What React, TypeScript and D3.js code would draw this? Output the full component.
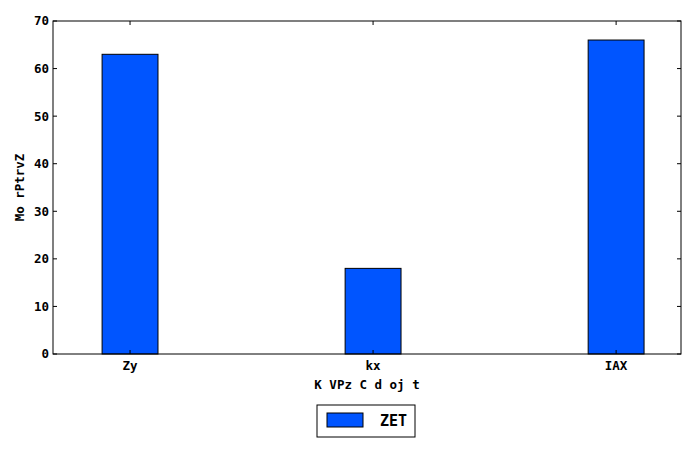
import React from "react";
import * as d3 from "d3";

const categories = ["Zy", "kx", "IAX"];
const values = [63, 18, 66];
const yTicks = [0, 10, 20, 30, 40, 50, 60, 70];
const seriesName = "ZET";

const W = 693;
const H = 462;
const m = { left: 53, right: 681, top: 21, bottom: 354 };
const font = "'DejaVu Sans Mono', monospace";
const blue = "#0055ff";

export default function App() {
  const x = d3.scaleLinear().domain([-0.317, 2.267]).range([m.left, m.right]);
  const y = d3.scaleLinear().domain([0, 70]).range([m.bottom, m.top]);
  const bw = x(0.23) - x(0);

  return (
    <svg width={W} height={H} style={{ position: "absolute", left: 0, top: 0, background: "#fff" }}>
      <g fontFamily={font} fontWeight="bold" fontSize={12.5}>
        {values.map((v, i) => (
          <rect key={i} x={x(i) - bw / 2} y={y(v)} width={bw} height={y(0) - y(v)}
            fill={blue} stroke="#000" strokeWidth={1} />
        ))}
        <rect x={m.left} y={m.top} width={m.right - m.left} height={m.bottom - m.top}
          fill="none" stroke="#000" strokeWidth={1} />
        {yTicks.map((t) => (
          <g key={t}>
            <line x1={m.left} x2={m.left + 4} y1={y(t)} y2={y(t)} stroke="#000" />
            <line x1={m.right} x2={m.right - 4} y1={y(t)} y2={y(t)} stroke="#000" />
            <text x={m.left - 4} y={y(t)} dy="0.35em" textAnchor="end">{t}</text>
          </g>
        ))}
        {categories.map((c, i) => (
          <g key={c}>
            <line x1={x(i)} x2={x(i)} y1={m.bottom} y2={m.bottom - 4} stroke="#000" />
            <line x1={x(i)} x2={x(i)} y1={m.top} y2={m.top + 4} stroke="#000" />
            <text x={x(i)} y={m.bottom + 16} textAnchor="middle">{c}</text>
          </g>
        ))}
        <text x={(m.left + m.right) / 2} y={389} textAnchor="middle" xmlSpace="preserve">K VPz C d oj t</text>
        <text transform={`translate(24,${(m.top + m.bottom) / 2}) rotate(-90)`} textAnchor="middle" xmlSpace="preserve">Mo rPtrvZ</text>
        <rect x={317} y={405} width={98} height={32} fill="#fff" stroke="#000" />
        <rect x={327} y={413} width={36} height={14} fill={blue} stroke="#000" />
        <text x={380} y={426} fontSize={15}>{seriesName}</text>
      </g>
    </svg>
  );
}
